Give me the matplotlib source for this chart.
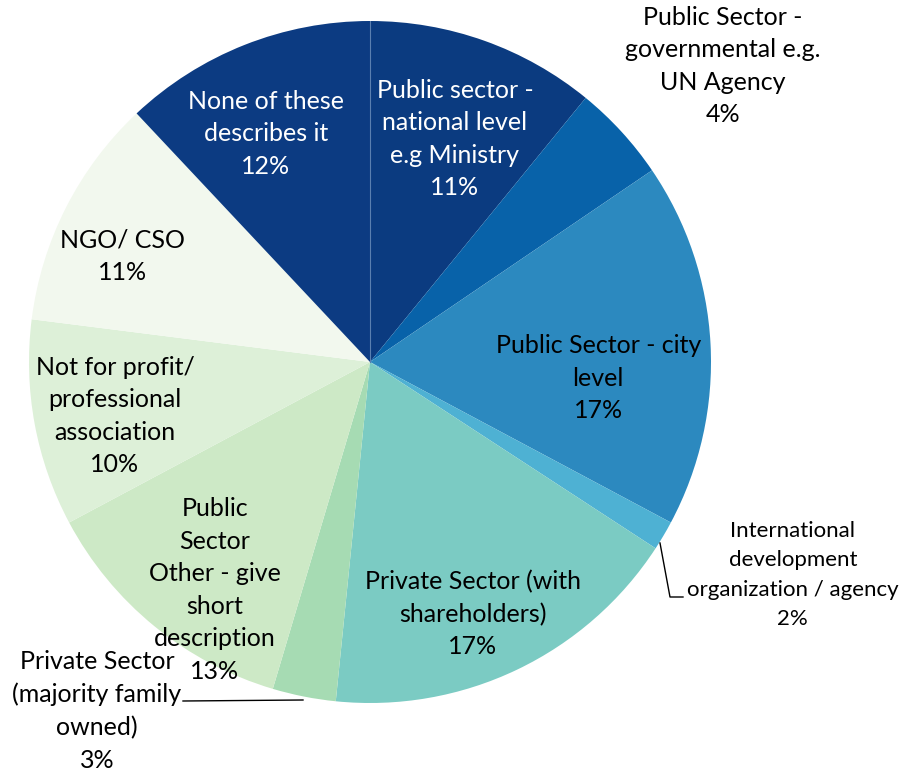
import numpy as np
import matplotlib.pyplot as plt

plt.rcParams['font.family'] = ['Lato', 'DejaVu Sans']

# slices, clockwise from 12 o'clock
categories = [
    "Public sector -\nnational level\ne.g Ministry",
    "Public Sector -\ngovernmental e.g.\nUN Agency",
    "Public Sector - city\nlevel",
    "International\ndevelopment\norganization / agency",
    "Private Sector (with\nshareholders)",
    "Private Sector\n(majority family\nowned)",
    "Public\nSector\nOther - give\nshort\ndescription",
    "Not for profit/\nprofessional\nassociation",
    "NGO/ CSO",
    "None of these\ndescribes it",
]
shares = [10.9, 4.6, 17.3, 1.4, 17.4, 3.0, 12.6, 9.8, 11.0, 12.0]
pct_labels = ["11%", "4%", "17%", "2%", "17%", "3%", "13%", "10%", "11%", "12%"]

colors = ['#0b3b80', '#0862a9', '#2c89bf', '#4eb1d3', '#7bcbc3',
          '#a6dbb3', '#cde9c6', '#ddf0d8', '#f2f8ee', '#0c3b82']
text_colors = ['white', 'black', 'black', 'black', 'black',
               'black', 'black', 'black', 'black', 'white']

# label centres, in pie-radius units relative to the centre
label_xy = [(0.249, 0.654), (1.035, 0.868), (0.669, -0.047), (1.24, -0.625),
            (0.302, -0.739), (-0.801, -1.023), (-0.455, -0.669), (-0.748, -0.158),
            (-0.727, 0.311), (-0.305, 0.669)]
label_size = [18, 18, 18, 16, 18, 18, 18, 18, 18, 18]
label_spacing = [1.5, 1.5, 1.5, 1.58, 1.5, 1.5, 1.5, 1.5, 1.5, 1.5]

fig = plt.figure(figsize=(9.01, 7.74), dpi=100)
W, H = 901, 774
cx, cy, r = 370, 362, 341
ax = fig.add_axes([(cx - r) / W, (H - cy - r) / H, 2 * r / W, 2 * r / H])

ax.pie(shares, colors=colors, startangle=90, counterclock=False, radius=1,
       wedgeprops=dict(edgecolor='none', linewidth=0))
ax.set_xlim(-1, 1)
ax.set_ylim(-1, 1)
ax.set_aspect('equal')
ax.axis('off')
# faint seam at 12 o'clock
ax.plot([0, 0], [0, 1], color='#5a7fb0', lw=0.8)

for i, (cat, pct) in enumerate(zip(categories, pct_labels)):
    x, y = label_xy[i]
    ax.text(x, y, cat + "\n" + pct, ha='center', va='center',
            fontsize=label_size[i], color=text_colors[i],
            linespacing=label_spacing[i], clip_on=False)

# leader lines for the two small outside labels
def px(x, y):
    return ((x - cx) / r, (cy - y) / r)

lx, ly = zip(px(660, 543), px(670, 597), px(683, 597))
ax.plot(lx, ly, color='black', lw=1, clip_on=False)
lx, ly = zip(px(303, 700), px(183, 701))
ax.plot(lx, ly, color='black', lw=1, clip_on=False)

fig.savefig('out.png', dpi=100)
